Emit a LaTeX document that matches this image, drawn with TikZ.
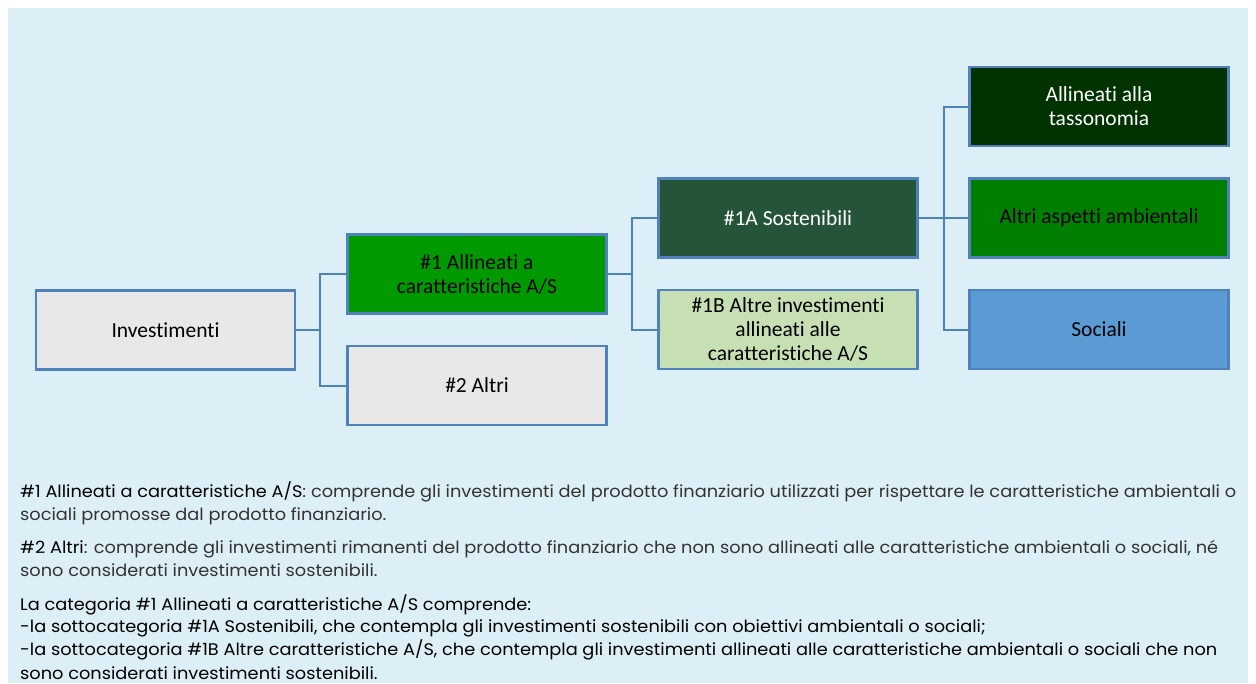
\documentclass[tikz,border=0pt]{standalone}
\usepackage{fontspec}
\setmainfont[Ligatures=CommonOff]{Carlito}
\newfontfamily\pop[FakeStretch=1.057]{Poppins}
\definecolor{bgblue}{HTML}{DCEFF7}
\definecolor{bord}{HTML}{4F81BD}
\definecolor{lgray}{HTML}{E8E8E8}
\definecolor{gA}{HTML}{009900}
\definecolor{gS}{HTML}{245539}
\definecolor{gB}{HTML}{C6E0B4}
\definecolor{gT}{HTML}{003300}
\definecolor{gE}{HTML}{007F00}
\definecolor{bS}{HTML}{5B9BD5}
\definecolor{bodytxt}{HTML}{333333}
\tikzset{
  box/.style={draw=bord, line width=2.2pt, minimum width=259pt, minimum height=79pt,
    inner sep=0pt, align=center, font=\fontsize{21.5}{24}\selectfont},
  conn/.style={draw=bord, line width=2pt},
  txt/.style={anchor=base west, inner sep=0pt, font=\pop\fontsize{16.8}{23}\selectfont}
}
\begin{document}
\begin{tikzpicture}[x=1pt,y=-1pt]
\useasboundingbox (0,0) rectangle (1256,683);
\fill[bgblue] (8,8) rectangle (1248,683);

\node[box, fill=lgray] (inv) at (165.5,330) {Investimenti};
\node[box, fill=gA] (a1) at (477,274) {\#1 Allineati a\\caratteristiche A/S};
\node[box, fill=lgray] (a2) at (477,385.5) {\#2 Altri};
\node[box, fill=gS, text=white] (s1a) at (788,218) {\#1A Sostenibili};
\node[box, fill=gB] (s1b) at (788,329.5) {\#1B Altre investimenti\\allineati alle\\caratteristiche A/S};
\node[box, fill=gT, text=white] (tax) at (1099,106.5) {Allineati alla\\tassonomia};
\node[box, fill=gE] (amb) at (1099,218) {Altri aspetti ambientali};
\node[box, fill=bS] (soc) at (1099,329.5) {Sociali};

\coordinate (j1) at (320,330);
\coordinate (j2) at (632,274);
\coordinate (j3) at (944,218);
\draw[conn] (inv.east) -- (j1);
\draw[conn] (a1.west) -| (j1);
\draw[conn] (a2.west) -| (j1);
\draw[conn] (a1.east) -- (j2);
\draw[conn] (s1a.west) -| (j2);
\draw[conn] (s1b.west) -| (j2);
\draw[conn] (s1a.east) -- (j3);
\draw[conn] (tax.west) -| (j3);
\draw[conn] (amb.west) -- (j3);
\draw[conn] (soc.west) -| (j3);

\node[txt] (l1) at (20,497) {\#1 Allineati a caratteristiche A/S\textcolor{bodytxt}{: comprende gli investimenti del prodotto finanziario utilizzati per rispettare le caratteristiche ambientali o}};
\node[txt, text=bodytxt] (l2) at (20,520) {sociali promosse dal prodotto finanziario.};
\node[txt] (l3) at (20,553) {\#2 Altri\textcolor{bodytxt}{: comprende gli investimenti rimanenti del prodotto finanziario che non sono allineati alle caratteristiche ambientali o sociali, né}};
\node[txt, text=bodytxt] (l4) at (20,576) {sono considerati investimenti sostenibili.};
\node[txt] (l5) at (20,610) {La categoria \#1 Allineati a caratteristiche A/S comprende:};
\node[txt] (l6) at (20,632) {-la sottocategoria \#1A Sostenibili, che contempla gli investimenti sostenibili con obiettivi ambientali o sociali;};
\node[txt] (l7) at (20,655) {-la sottocategoria \#1B Altre caratteristiche A/S, che contempla gli investimenti allineati alle caratteristiche ambientali o sociali che non};
\node[txt] (l8) at (20,679) {sono considerati investimenti sostenibili.};
\end{tikzpicture}
\end{document}
